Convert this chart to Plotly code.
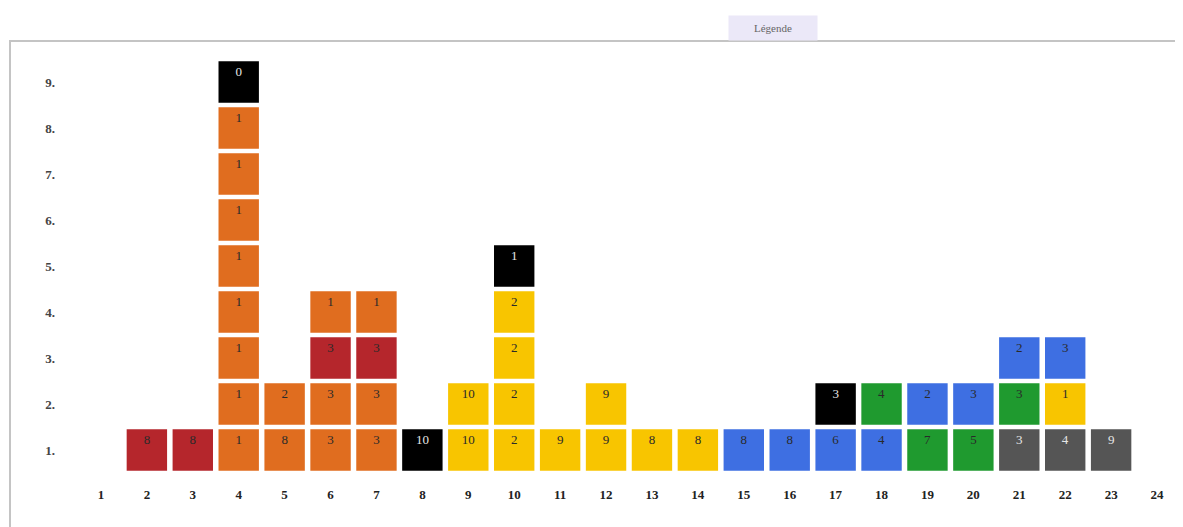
import plotly.graph_objects as go

# ---- data ----
columns = [2, 3,
           4, 4, 4, 4, 4, 4, 4, 4, 4,
           5, 5,
           6, 6, 6, 6,
           7, 7, 7, 7,
           8,
           9, 9,
           10, 10, 10, 10, 10,
           11,
           12, 12,
           13, 14, 15, 16,
           17, 17,
           18, 18,
           19, 19,
           20, 20,
           21, 21, 21,
           22, 22, 22,
           23]
rows = [1, 1,
        1, 2, 3, 4, 5, 6, 7, 8, 9,
        1, 2,
        1, 2, 3, 4,
        1, 2, 3, 4,
        1,
        1, 2,
        1, 2, 3, 4, 5,
        1,
        1, 2,
        1, 1, 1, 1,
        1, 2,
        1, 2,
        1, 2,
        1, 2,
        1, 2, 3,
        1, 2, 3,
        1]
groups = ["rouge", "rouge",
          "orange", "orange", "orange", "orange", "orange", "orange", "orange", "orange", "noir",
          "orange", "orange",
          "orange", "orange", "rouge", "orange",
          "orange", "orange", "rouge", "orange",
          "noir",
          "jaune", "jaune",
          "jaune", "jaune", "jaune", "jaune", "noir",
          "jaune",
          "jaune", "jaune",
          "jaune", "jaune", "bleu", "bleu",
          "bleu", "noir",
          "bleu", "vert",
          "vert", "bleu",
          "vert", "bleu",
          "gris", "vert", "bleu",
          "gris", "jaune", "bleu",
          "gris"]
labels = ["8", "8",
          "1", "1", "1", "1", "1", "1", "1", "1", "0",
          "8", "2",
          "3", "3", "3", "1",
          "3", "3", "3", "1",
          "10",
          "10", "10",
          "2", "2", "2", "2", "1",
          "9",
          "9", "9",
          "8", "8", "8", "8",
          "6", "3",
          "4", "4",
          "7", "2",
          "5", "3",
          "3", "3", "2",
          "4", "1", "3",
          "9"]
x_ticks = list(range(1, 25))
y_ticks = list(range(1, 10))

# ---- styles ----
group_colors = {
    "rouge": "#b5262c",
    "orange": "#e06d1f",
    "noir": "#000000",
    "jaune": "#f8c500",
    "bleu": "#3e6fe2",
    "vert": "#1f9a2f",
    "gris": "#555555",
}
text_colors = {g: ("#e6e6e6" if g in ("noir", "gris") else "#2a2a2a") for g in group_colors}

FONT = "Liberation Serif"

fig = go.Figure()
fig.add_trace(go.Bar(
    x=columns,
    y=[0.9] * len(rows),
    base=[r - 0.45 for r in rows],
    width=0.88,
    marker=dict(color=[group_colors[g] for g in groups], line=dict(width=0)),
    text=labels,
    textposition="inside",
    insidetextanchor="end",
    textangle=0,
    constraintext="none",
    textfont=dict(family=FONT, size=13, color=[text_colors[g] for g in groups]),
    hoverinfo="skip",
    showlegend=False,
))

fig.update_layout(
    width=1183, height=527,
    margin=dict(l=70, r=11, t=51, b=62),
    paper_bgcolor="white",
    plot_bgcolor="white",
    font=dict(family=FONT),
    barmode="overlay",
    xaxis=dict(
        range=[0.5, 24.5],
        tickmode="array", tickvals=x_ticks, ticktext=[str(v) for v in x_ticks],
        showgrid=False, zeroline=False, showline=False, ticks="",
        tickfont=dict(family=FONT, size=13, color="#222222", weight="bold"),
        ticklabelstandoff=12,
        fixedrange=True,
    ),
    yaxis=dict(
        range=[0.5, 9.5],
        tickmode="array", tickvals=y_ticks, ticktext=[f"{v}." for v in y_ticks],
        showgrid=False, zeroline=False, showline=False, ticks="",
        tickfont=dict(family=FONT, size=13, color="#444444", weight="bold"),
        ticklabelstandoff=22,
        fixedrange=True,
    ),
    shapes=[dict(
        type="rect", xref="paper", yref="paper",
        x0=-0.0617, x1=1.2, y0=-0.3, y1=1.0435,
        line=dict(color="#c4c4c4", width=2), fillcolor="rgba(0,0,0,0)", layer="below",
    )],
    annotations=[dict(
        text="Légende", xref="paper", yref="paper",
        x=(773 - 78) / 1102, y=(473 - 28) / 414,
        xanchor="center", yanchor="middle", showarrow=False,
        font=dict(family=FONT, size=11, color="#666666"),
        bgcolor="#ebe8f8", width=86, height=22,
    )],
)

fig.write_html("out.html")
